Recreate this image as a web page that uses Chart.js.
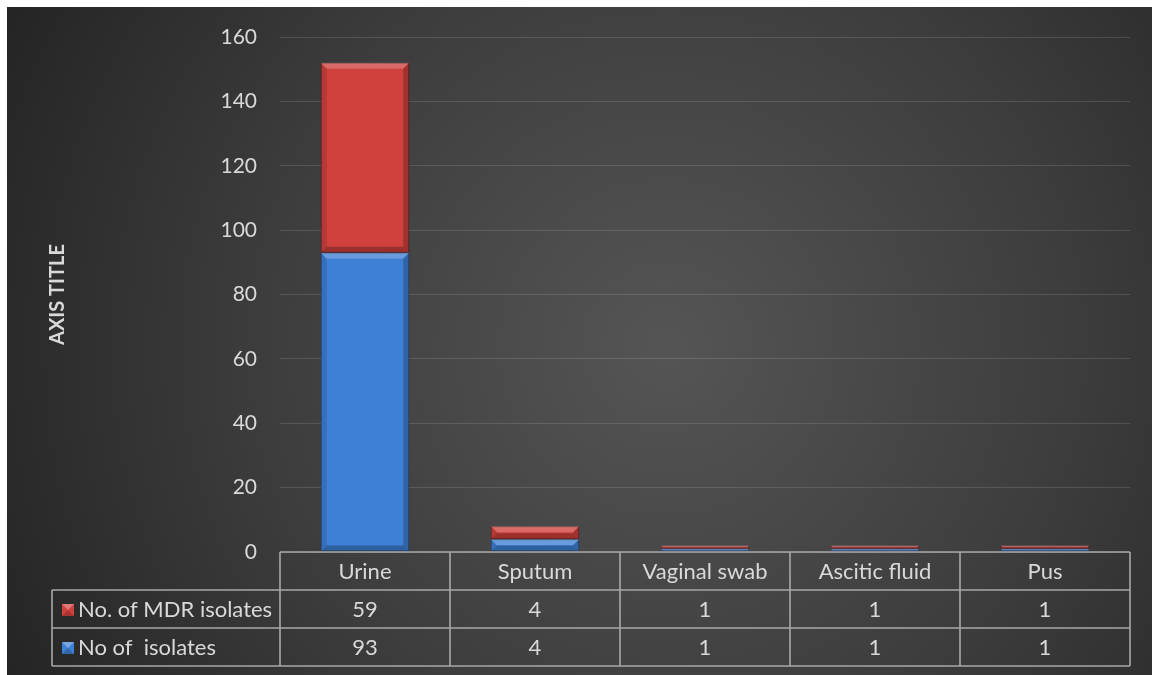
<!DOCTYPE html>
<html><head><meta charset="utf-8">
<script src="https://cdn.jsdelivr.net/npm/chart.js@4.4.0/dist/chart.umd.min.js"></script>
<style>
html,body{margin:0;padding:0;background:#fff;}
#wrap{position:absolute;left:7px;top:7px;width:1145px;height:668px;}
canvas{display:block;}
</style></head><body>
<div id="wrap"><canvas id="c" width="1145" height="668"></canvas></div>
<script>
const categories = ['Urine', 'Sputum', 'Vaginal swab', 'Ascitic fluid', 'Pus'];
const mdrIsolates = [59, 4, 1, 1, 1];
const totalIsolates = [93, 4, 1, 1, 1];
const seriesNames = ['No. of MDR isolates', 'No of  isolates'];
const yMin = 0, yMax = 160, yStep = 20;
const axisTitle = 'AXIS TITLE';

const FONT = 'Lato, "Open Sans", sans-serif';
const TEXT = '#d9d9d9';
const RED = '#cf413d', BLUE = '#3e80d5';

const bgPlugin = {
  id: 'bg',
  beforeDraw(chart) {
    const {ctx, width, height} = chart;
    const g = ctx.createRadialGradient(660, 340, 0, 660, 340, 760);
    g.addColorStop(0, '#555555');
    g.addColorStop(0.55, '#3c3c3c');
    g.addColorStop(1, '#232323');
    ctx.save();
    ctx.fillStyle = g;
    ctx.fillRect(0, 0, width, height);
    ctx.restore();
  }
};

function shade(ctx, pts, color) {
  ctx.beginPath();
  ctx.moveTo(pts[0][0], pts[0][1]);
  for (let i = 1; i < pts.length; i++) ctx.lineTo(pts[i][0], pts[i][1]);
  ctx.closePath();
  ctx.fillStyle = color;
  ctx.fill();
}

const bevelPlugin = {
  id: 'bevel',
  afterDatasetsDraw(chart) {
    const ctx = chart.ctx;
    ctx.save();
    chart.data.datasets.forEach((ds, di) => {
      const meta = chart.getDatasetMeta(di);
      meta.data.forEach(el => {
        const l = el.x - el.width / 2, r = el.x + el.width / 2;
        const t = Math.min(el.y, el.base), b = Math.max(el.y, el.base);
        const h = b - t;
        const s = Math.min(6, h / 2);
        shade(ctx, [[l, t], [r, t], [r - s, t + s], [l + s, t + s]], 'rgba(255,255,255,0.22)');
        shade(ctx, [[l, b], [r, b], [r - s, b - s], [l + s, b - s]], 'rgba(0,0,0,0.25)');
        shade(ctx, [[l, t], [l + s, t + s], [l + s, b - s], [l, b]], 'rgba(0,0,0,0.12)');
        shade(ctx, [[r, t], [r - s, t + s], [r - s, b - s], [r, b]], 'rgba(0,0,0,0.22)');
      });
    });
    ctx.restore();
  }
};

const tablePlugin = {
  id: 'dataTable',
  afterDraw(chart) {
    const ctx = chart.ctx;
    const xs = chart.scales.x;
    const area = chart.chartArea;
    const rowH = 38;
    const top = area.bottom;
    const labelLeft = 45;
    const n = categories.length;
    const bounds = [area.left];
    for (let i = 1; i < n; i++) bounds.push((xs.getPixelForValue(i - 1) + xs.getPixelForValue(i)) / 2);
    bounds.push(area.right);
    const rows = [
      {name: seriesNames[0], values: mdrIsolates, color: RED},
      {name: seriesNames[1], values: totalIsolates, color: BLUE}
    ];
    ctx.save();
    ctx.strokeStyle = '#a8a8a8';
    ctx.lineWidth = 1.6;
    ctx.beginPath();
    ctx.moveTo(area.left, top); ctx.lineTo(area.right, top);
    for (let r = 1; r <= rows.length + 1; r++) {
      ctx.moveTo(labelLeft, top + rowH * r); ctx.lineTo(area.right, top + rowH * r);
    }
    bounds.forEach(x => { ctx.moveTo(x, top); ctx.lineTo(x, top + rowH * (rows.length + 1)); });
    ctx.moveTo(labelLeft, top + rowH); ctx.lineTo(labelLeft, top + rowH * (rows.length + 1));
    ctx.stroke();

    ctx.fillStyle = TEXT;
    ctx.font = '22px ' + FONT;
    ctx.textAlign = 'center';
    ctx.textBaseline = 'middle';
    categories.forEach((c, i) => {
      ctx.fillText(c, (bounds[i] + bounds[i + 1]) / 2, top + rowH / 2 + 1);
    });
    rows.forEach((row, ri) => {
      const cy = top + rowH * (ri + 1) + rowH / 2 + 1;
      row.values.forEach((v, i) => {
        ctx.fillStyle = TEXT;
        ctx.textAlign = 'center';
        ctx.fillText(String(v), (bounds[i] + bounds[i + 1]) / 2, cy);
      });
      const kx = labelLeft + 10, ky = cy - 6, ks = 12;
      ctx.fillStyle = row.color;
      ctx.fillRect(kx, ky, ks, ks);
      shade(ctx, [[kx, ky], [kx + ks, ky], [kx + ks / 2, ky + ks / 2]], 'rgba(255,255,255,0.3)');
      shade(ctx, [[kx, ky + ks], [kx + ks, ky + ks], [kx + ks / 2, ky + ks / 2]], 'rgba(0,0,0,0.2)');
      ctx.fillStyle = TEXT;
      ctx.textAlign = 'left';
      ctx.fillText(row.name, kx + ks + 4, cy);
    });
    ctx.restore();
  }
};

new Chart(document.getElementById('c'), {
  type: 'bar',
  data: {
    labels: categories,
    datasets: [
      {label: seriesNames[1], data: totalIsolates, backgroundColor: BLUE, borderColor: '#2a5a9a', borderWidth: 1, borderSkipped: false},
      {label: seriesNames[0], data: mdrIsolates, backgroundColor: RED, borderColor: '#8a2624', borderWidth: 1, borderSkipped: false}
    ]
  },
  options: {
    responsive: false,
    animation: false,
    layout: {padding: {top: 30, bottom: 123, left: 0, right: 22}},
    datasets: {bar: {categoryPercentage: 0.52, barPercentage: 1}},
    plugins: {legend: {display: false}, tooltip: {enabled: false}},
    scales: {
      x: {stacked: true, display: false},
      y: {
        stacked: true, min: yMin, max: yMax,
        afterFit(scale) { scale.width = 273; scale.paddingTop = 0; scale.paddingBottom = 0; },
        ticks: {stepSize: yStep, color: TEXT, font: {family: FONT, size: 21}, padding: 23},
        grid: {color: 'rgba(255,255,255,0.13)', lineWidth: 1, drawTicks: false},
        border: {display: false},
        title: {display: true, text: axisTitle, color: TEXT, font: {family: FONT, size: 20, weight: 'bold'}, padding: {top: 39, bottom: 0}}
      }
    }
  },
  plugins: [bgPlugin, bevelPlugin, tablePlugin]
});
</script>
</body></html>
